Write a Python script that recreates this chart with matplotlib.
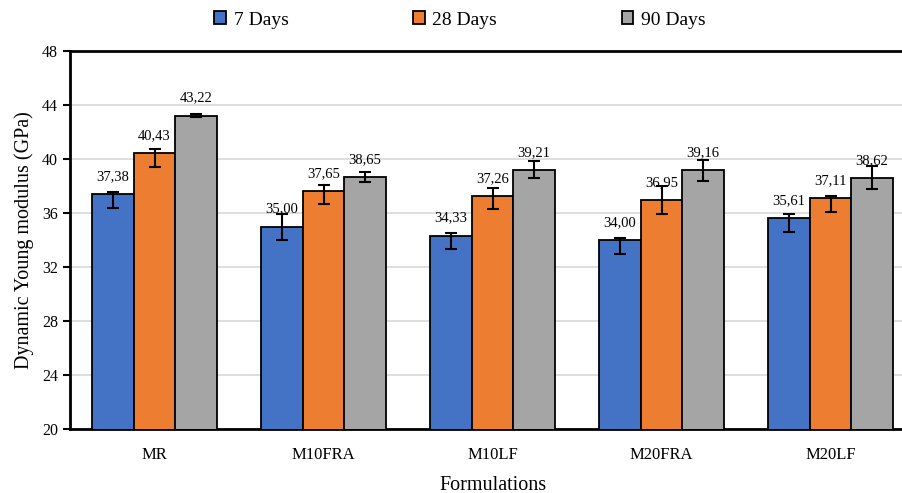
import numpy as np
import matplotlib.pyplot as plt
from matplotlib.patches import Patch

plt.rcParams['font.family'] = ['Liberation Serif', 'DejaVu Serif']

formulations = ['MR', 'M10FRA', 'M10LF', 'M20FRA', 'M20LF']
series = ['7 Days', '28 Days', '90 Days']
colors = ['#4472C4', '#ED7D31', '#A5A5A5']

d7 = [37.38, 35.00, 34.33, 34.00, 35.61]
d28 = [40.43, 37.65, 37.26, 36.95, 37.11]
d90 = [43.22, 38.65, 39.21, 39.16, 38.62]

# error bars (lower, upper)
d7_lo = [1.0, 1.0, 1.0, 1.0, 1.0]
d7_hi = [0.2, 0.95, 0.17, 0.17, 0.35]
d28_lo = [1.0, 1.0, 1.0, 1.05, 1.0]
d28_hi = [0.3, 0.4, 0.57, 1.06, 0.17]
d90_lo = [0.1, 0.37, 0.62, 0.8, 0.87]
d90_hi = [0.1, 0.37, 0.64, 0.8, 0.89]

values = [d7, d28, d90]
errs = [(d7_lo, d7_hi), (d28_lo, d28_hi), (d90_lo, d90_hi)]

fig = plt.figure(figsize=(9.02, 4.93), dpi=100)
ax = fig.add_axes([70/902, 1-429/493, 845/902, 378/493])

x = np.arange(len(formulations))
w = 0.245
for i, (vals, (lo, hi)) in enumerate(zip(values, errs)):
    pos = x + (i - 1) * w
    ax.bar(pos, vals, w, color=colors[i], edgecolor='black', linewidth=1.3,
           zorder=3)
    ax.errorbar(pos, vals, yerr=[lo, hi], fmt='none', ecolor='black',
                elinewidth=1.5, capsize=4, capthick=1.5, zorder=4)
    for p, v in zip(pos, vals):
        ax.annotate(f'{v:.2f}'.replace('.', ','), (p, v), xytext=(0, 12.5),
                    textcoords='offset points', ha='center', va='center',
                    fontsize=10.5, zorder=5)

ax.set_ylim(20, 48)
ax.set_yticks(range(20, 49, 4))
ax.set_xlim(-0.5, len(formulations) - 0.5)
ax.set_xticks(x)
ax.set_xticklabels(formulations)
ax.tick_params(axis='x', length=0, labelsize=12, pad=13)
ax.tick_params(axis='y', length=5, width=1.5, labelsize=11.5, direction='out')
ax.yaxis.grid(True, color='#d9d9d9', linewidth=1.2, zorder=0)
ax.set_axisbelow(True)
for s in ['left', 'bottom', 'top']:
    ax.spines[s].set_linewidth(2)
    ax.spines[s].set_color('black')
ax.spines['right'].set_visible(False)

ax.set_ylabel('Dynamic Young modulus (GPa)', fontsize=14.5, labelpad=6)
ax.set_xlabel('Formulations', fontsize=14.5, labelpad=9)

handles = [Patch(facecolor=c, edgecolor='black', linewidth=1.3) for c in colors]
fig.legend(handles, series, loc='center', bbox_to_anchor=(460/902, 1-20/493),
           ncol=3, frameon=False, fontsize=14, handlelength=0.6,
           handleheight=0.6, handletextpad=0.4, columnspacing=6.4)

fig.savefig('out.png', dpi=100)
